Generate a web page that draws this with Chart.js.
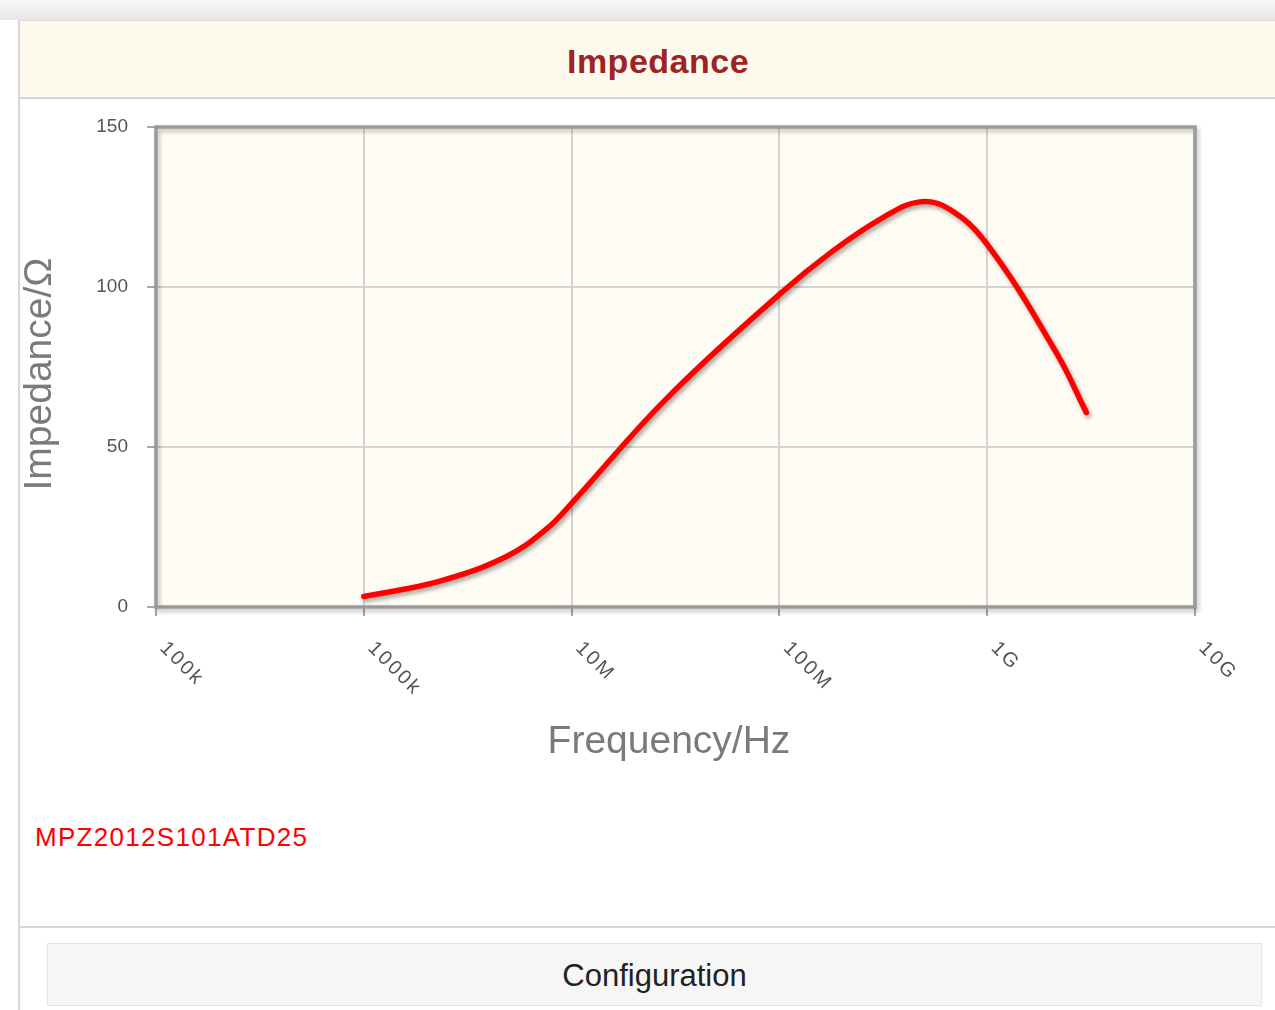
<!DOCTYPE html>
<html>
<head>
<meta charset="utf-8">
<script src="https://cdn.jsdelivr.net/npm/chart.js@4/dist/chart.umd.min.js"></script>
<style>
  body { margin: 0; width: 1275px; height: 1010px; overflow: hidden; background: #fff; font-family: "Liberation Sans", Arial, sans-serif; position: relative; }
  #topbar { position: absolute; left: 0; top: 0; width: 1275px; height: 20px; background: linear-gradient(#f9f9f9, #e6e6e6); }
  #panel { position: absolute; left: 18px; top: 20px; width: 1257px; height: 990px; border-left: 2px solid #d8d8d8; background: #fff; }
  #head { position: absolute; left: 0; top: 0; width: 1257px; height: 76px; background: #fffaee; border-top: 1px solid #dcdcdc; border-bottom: 2px solid #d6d6d6; }
  #title { position: absolute; left: 438px; top: 21px; width: 400px; text-align: center; font-weight: bold; font-size: 34px; color: #9e2424; letter-spacing: 0.5px; }
  #wrap { position: absolute; left: 0; top: 100px; width: 1275px; height: 700px; }
  .axt { position: absolute; font-size: 39px; color: #7a7a7a; white-space: nowrap; }
  #xt { left: 469px; top: 718px; width: 400px; text-align: center; }
  #yt { left: -162px; top: 352px; width: 400px; text-align: center; transform: rotate(-90deg); }
  #part { position: absolute; left: 35px; top: 822px; font-size: 26px; color: #ff0000; letter-spacing: 1.3px; }
  #sep { position: absolute; left: 20px; top: 926px; width: 1255px; height: 2px; background: #d8d8d8; }
  #btn { position: absolute; left: 47px; top: 943px; width: 1213px; height: 61px; background: #f6f6f6; border: 1px solid #e4e4e4; text-align: center; line-height: 63px; font-size: 31px; color: #222; }
</style>
</head>
<body>
<div id="topbar"></div>
<div id="panel"><div id="head"><div id="title">Impedance</div></div></div>
<div id="wrap"><canvas id="myChart"></canvas></div>
<div class="axt" id="xt">Frequency/Hz</div>
<div class="axt" id="yt">Impedance/Ω</div>
<div id="part">MPZ2012S101ATD25</div>
<div id="sep"></div>
<div id="btn">Configuration</div>
<script>
// values
const frequency = [1e6, 2.3e6, 4.86e6, 7.55e6, 1e7, 2.84e7, 1e8, 1.81e8, 3.15e8, 4.72e8, 6.59e8, 1e9, 2.15e9, 3e9];
const impedance = [3.3, 8, 15.8, 24.3, 32.4, 64.9, 97.7, 111.3, 121.7, 126.6, 124.3, 113.3, 79.5, 60.8];
const xTickValues = [1e5, 1e6, 1e7, 1e8, 1e9, 1e10];
const xTickLabels = ["100k", "1000k", "10M", "100M", "1G", "10G"];
const yTickValues = [0, 50, 100, 150];

const plotDeco = {
  id: "plotDeco",
  beforeDraw(chart) {
    const a = chart.chartArea, ctx = chart.ctx;
    ctx.save();
    ctx.fillStyle = "#fffcf3";
    ctx.fillRect(a.left, a.top, a.right - a.left, a.bottom - a.top);
    ctx.restore();
  },
  beforeDatasetsDraw(chart) {
    const a = chart.chartArea, ctx = chart.ctx;
    ctx.save();
    ctx.shadowColor = "rgba(0,0,0,0.25)";
    ctx.shadowBlur = 4;
    ctx.shadowOffsetX = 2;
    ctx.shadowOffsetY = 3;
    ctx.strokeStyle = "#9a9a9a";
    ctx.lineWidth = 3.5;
    ctx.strokeRect(a.left, a.top, a.right - a.left, a.bottom - a.top);
    ctx.restore();
  },
  beforeDatasetDraw(chart) {
    const ctx = chart.ctx;
    ctx.save();
    ctx.shadowColor = "rgba(0,0,0,0.35)";
    ctx.shadowBlur = 4;
    ctx.shadowOffsetX = 2;
    ctx.shadowOffsetY = 3;
  },
  afterDatasetDraw(chart) {
    chart.ctx.restore();
  },
  afterDraw(chart) {
    const ctx = chart.ctx, xs = chart.scales.x;
    ctx.save();
    ctx.fillStyle = "#555";
    ctx.font = "20px 'Liberation Sans', Arial, sans-serif";
    ctx.letterSpacing = "2.5px";
    ctx.textAlign = "left";
    ctx.textBaseline = "middle";
    xTickValues.forEach((v, i) => {
      const px = xs.getPixelForValue(v);
      ctx.save();
      ctx.translate(px + 7, chart.chartArea.bottom + 38);
      ctx.rotate(Math.PI / 4);
      ctx.fillText(xTickLabels[i], 0, 0);
      ctx.restore();
    });
    ctx.restore();
  }
};

new Chart(document.getElementById("myChart"), {
  type: "line",
  data: {
    datasets: [{
      data: frequency.map((f, i) => ({ x: f, y: impedance[i] })),
      borderColor: "#ff0000",
      borderWidth: 5.5,
      borderCapStyle: "round",
      borderJoinStyle: "round",
      pointRadius: 0,
      fill: false,
      tension: 0.4
    }]
  },
  options: {
    responsive: true,
    maintainAspectRatio: false,
    animation: false,
    events: [],
    layout: { padding: { left: 0, top: 27, right: 80, bottom: 0 } },
    plugins: { legend: { display: false }, tooltip: { enabled: false } },
    scales: {
      x: {
        type: "logarithmic",
        min: 1e5,
        max: 1e10,
        afterBuildTicks: s => { s.ticks = xTickValues.map(v => ({ value: v })); },
        afterFit: s => { s.height = 193; s.paddingLeft = 0; s.paddingRight = 0; },
        ticks: { display: false },
        border: { display: false },
        grid: { color: "#d4d4d4", lineWidth: 2, tickLength: 9, tickColor: "#a8a8a8", tickWidth: 2 }
      },
      y: {
        min: 0,
        max: 150,
        afterBuildTicks: s => { s.ticks = yTickValues.map(v => ({ value: v })); },
        afterFit: s => { s.width = 156; s.paddingTop = 0; s.paddingBottom = 0; },
        ticks: { color: "#555", padding: 19, font: { size: 19, family: "'Liberation Sans', Arial, sans-serif" } },
        border: { display: false },
        grid: { color: "#d4d4d4", lineWidth: 2, tickLength: 9, tickColor: "#a8a8a8", tickWidth: 2 }
      }
    }
  },
  plugins: [plotDeco]
});
</script>
</body>
</html>
